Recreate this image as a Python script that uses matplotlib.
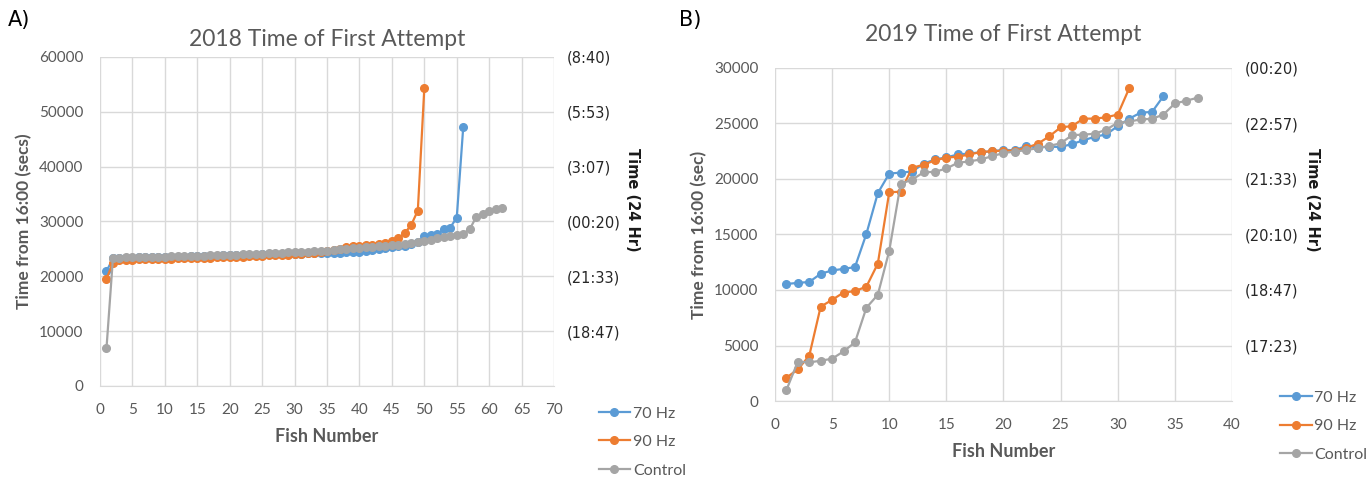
import matplotlib
matplotlib.use("Agg")
import matplotlib.pyplot as plt

plt.rcParams['font.family'] = ['Lato', 'DejaVu Sans']

# 2018 data (seconds from 16:00), fish sorted by time
y18_70 = [20900, 23300, 23350, 23400, 23400, 23450, 23450, 23500, 23500, 23550,
          23550, 23600, 23600, 23650, 23650, 23700, 23700, 23750, 23800, 23800,
          23850, 23900, 23900, 23950, 24000, 24000, 24050, 24100, 24100, 24150,
          24150, 24200, 24200, 24250, 24250, 24300, 24300, 24350, 24350, 24400,
          24600, 24800, 25000, 25200, 25400, 25600, 25600, 25900, 26200, 27300,
          27500, 27700, 28600, 28900, 30700, 47200]
y18_90 = [19600, 22400, 22900, 23000, 23050, 23100, 23100, 23150, 23150, 23200,
          23200, 23250, 23300, 23300, 23350, 23400, 23400, 23450, 23500, 23500,
          23550, 23600, 23650, 23700, 23750, 23800, 23850, 23900, 23950, 24000,
          24100, 24200, 24300, 24450, 24600, 24800, 25000, 25300, 25450, 25600,
          25700, 25800, 25900, 26100, 26400, 26900, 27900, 29400, 32000, 54300]
y18_ctrl = [6900, 23400, 23400, 23450, 23450, 23500, 23500, 23550, 23550, 23600,
            23650, 23650, 23700, 23700, 23750, 23750, 23800, 23800, 23850, 23900,
            23950, 24000, 24050, 24100, 24150, 24200, 24250, 24300, 24350, 24400,
            24450, 24500, 24550, 24600, 24700, 24800, 24900, 25000, 25100, 25200,
            25300, 25400, 25500, 25600, 25700, 25800, 25900, 26100, 26300, 26500,
            26700, 26900, 27200, 27400, 27600, 27800, 28600, 30800, 31400, 32000,
            32300, 32500]

# 2019 data
y19_70 = [10540, 10640, 10720, 11460, 11760, 11900, 12060, 15050, 18720, 20480,
          20570, 20660, 21370, 21750, 21940, 22200, 22290, 22400, 22490, 22620,
          22580, 22990, 22820, 22900, 22880, 23140, 23480, 23800, 24010, 24760,
          25420, 25970, 26030, 27460]
y19_90 = [2100, 2850, 4080, 8500, 9110, 9770, 9900, 10300, 12370, 18800,
          18850, 21000, 21280, 21670, 21920, 22000, 22200, 22420, 22500, 22540,
          22540, 22800, 23170, 23830, 24640, 24760, 25430, 25430, 25550, 25800,
          28160]
y19_ctrl = [990, 3540, 3480, 3630, 3810, 4470, 5280, 8400, 9570, 13520,
            19570, 19930, 20590, 20640, 20940, 21450, 21580, 21750, 22050, 22330,
            22470, 22590, 22780, 22980, 23200, 23940, 23990, 24070, 24440, 25070,
            25160, 25360, 25410, 25800, 26800, 27040, 27320]

right18_ticks = [10000, 20000, 30000, 40000, 50000, 60000]
right18_labels = ['(18:47)', '(21:33)', '(00:20)', '(3:07)', '(5:53)', '(8:40)']
right19_ticks = [5000, 10000, 15000, 20000, 25000, 30000]
right19_labels = ['(17:23)', '(18:47)', '(20:10)', '(21:33)', '(22:57)', '(00:20)']

C70, C90, CCTRL = '#5B9BD5', '#ED7D31', '#A5A5A5'
GRID = '#D9D9D9'
TXT = '#595959'

fig = plt.figure(figsize=(13.68, 4.78), dpi=100)


def style_panel(ax, xmax, xstep, ymax, ystep, ylabel, rticks, rlabels, rlab_pos):
    ax.set_xlim(0, xmax)
    ax.set_ylim(0, ymax)
    ax.set_xticks(range(0, xmax + 1, xstep))
    ax.set_yticks(range(0, ymax + 1, ystep))
    ax.grid(True, color=GRID, linewidth=1)
    ax.set_axisbelow(True)
    for s in ax.spines.values():
        s.set_visible(False)
    ax.spines['bottom'].set_visible(True)
    ax.spines['bottom'].set_color(GRID)
    ax.tick_params(length=0, labelsize=11, labelcolor=TXT)
    ax.tick_params(axis='x', pad=12)
    ax.tick_params(axis='y', pad=12)
    ax.set_xlabel('Fish Number', fontsize=13, fontweight='bold', color=TXT, labelpad=8)
    ax.set_ylabel(ylabel, fontsize=12.5, fontweight='bold', color=TXT, labelpad=5)
    ax2 = ax.twinx()
    ax2.set_ylim(0, ymax)
    ax2.set_yticks(rticks)
    ax2.set_yticklabels(rlabels, family='DejaVu Sans')
    ax2.tick_params(length=0, labelsize=10.5, labelcolor='#262626', pad=9)
    for s in ax2.spines.values():
        s.set_visible(False)
    ax2.set_ylabel('Time (24 Hr)', fontsize=10.5, fontweight='bold', color='#1a1a1a',
                   family='DejaVu Sans', rotation=270, va='center')
    ax2.yaxis.set_label_coords(*rlab_pos)
    return ax2


def draw(ax, series):
    for ys, c, lab in series:
        ax.plot(range(1, len(ys) + 1), ys, color=c, marker='o', markersize=5.5,
                linewidth=1.6, label=lab)


# Panel A
axA = fig.add_axes([0.0731, 0.1925, 0.3319, 0.6883])
draw(axA, [(y18_70, C70, '70 Hz'), (y18_90, C90, '90 Hz'), (y18_ctrl, CCTRL, 'Control')])
style_panel(axA, 70, 5, 60000, 10000, 'Time from 16:00 (secs)', right18_ticks, right18_labels,
            (1.172, 0.565))
axA.set_title('2018 Time of First Attempt', fontsize=16.5, color=TXT, pad=8)
axA.legend(loc='upper left', bbox_to_anchor=(0.427, 0.18), bbox_transform=fig.transFigure,
           frameon=False, fontsize=11.5, labelspacing=0.9, handlelength=2.0,
           handletextpad=0.15, labelcolor=TXT)

# Panel B
axB = fig.add_axes([0.5665, 0.161, 0.3341, 0.697])
draw(axB, [(y19_70, C70, '70 Hz'), (y19_90, C90, '90 Hz'), (y19_ctrl, CCTRL, 'Control')])
style_panel(axB, 40, 5, 30000, 5000, 'Time from 16:00 (sec)', right19_ticks, right19_labels,
            (1.175, 0.604))
axB.set_title('2019 Time of First Attempt', fontsize=16.5, color=TXT, pad=19)
axB.legend(loc='upper left', bbox_to_anchor=(0.925, 0.213), bbox_transform=fig.transFigure,
           frameon=False, fontsize=11.5, labelspacing=0.9, handlelength=2.0,
           handletextpad=0.15, labelcolor=TXT)

fig.text(0.006, 0.98, 'A)', fontsize=15, va='top', ha='left', family='DejaVu Sans')
fig.text(0.496, 0.98, 'B)', fontsize=15, va='top', ha='left', family='DejaVu Sans')

fig.savefig('out.png', dpi=100)
